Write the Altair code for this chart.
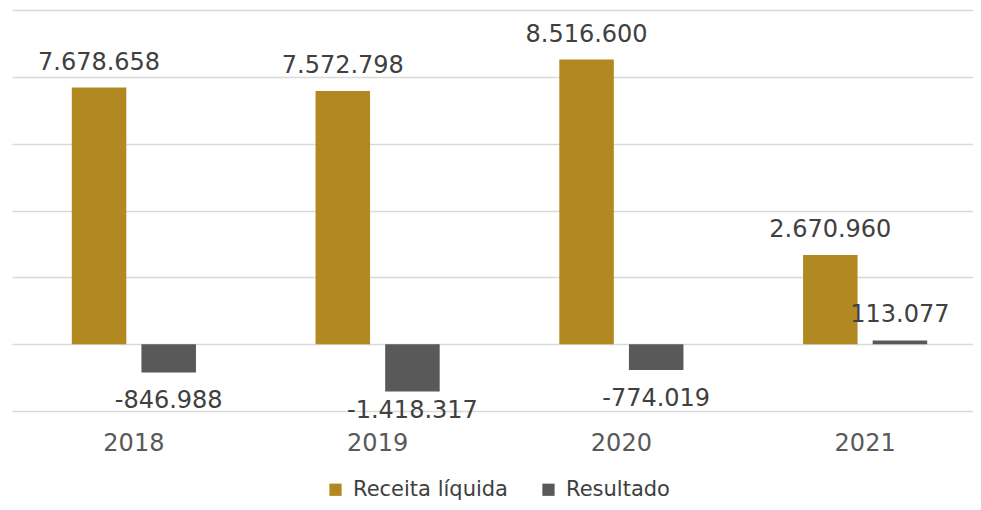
import altair as alt
import pandas as pd

years = ["2018", "2019", "2020", "2021"]
receita = [7678658, 7572798, 8516600, 2670960]
resultado = [-846988, -1418317, -774019, 113077]
series = ["Receita líquida", "Resultado"]
colors = ["#B28921", "#595959"]

rows = []
for i, y in enumerate(years):
    for s, vals in zip(series, [receita, resultado]):
        v = vals[i]
        rows.append({"ano": y, "serie": s, "valor": v,
                     "rotulo": f"{v:,}".replace(",", ".")})
df = pd.DataFrame(rows)

FONT = "DejaVu Sans"

x = alt.X("ano:N", title=None, sort=years,
          scale=alt.Scale(paddingInner=0, paddingOuter=0, range=[0, 975]),
          axis=alt.Axis(domain=False, ticks=False, labelAngle=0, labelFontSize=24,
                        labelColor="#595959", labelPadding=20, labelFont=FONT))
xo = alt.XOffset("serie:N", sort=series,
                 scale=alt.Scale(paddingInner=0.217, paddingOuter=0.859))
y = alt.Y("valor:Q", title=None,
          scale=alt.Scale(domain=[-2000000, 10000000], nice=False),
          axis=alt.Axis(values=[-2000000, 0, 2000000, 4000000, 6000000, 8000000, 10000000],
                        labels=False, ticks=False, domain=False, grid=True,
                        gridColor="#d9d9d9", gridWidth=1.5))
color = alt.Color("serie:N", sort=series,
                  scale=alt.Scale(domain=series, range=colors),
                  legend=alt.Legend(title=None, orient="none", direction="horizontal",
                                    legendX=313, legendY=469, symbolType="square",
                                    symbolSize=150, symbolStrokeWidth=0,
                                    labelFontSize=21, labelColor="#404040", labelFont=FONT,
                                    labelOffset=7, columnPadding=30, labelLimit=400))

base = alt.Chart(df).encode(x=x, xOffset=xo)

bars = base.mark_bar().encode(y=y, color=color)

pos = base.transform_filter("datum.valor >= 0").mark_text(
    baseline="alphabetic", dy=-18, fontSize=24, color="#404040", font=FONT
).encode(y=alt.Y("valor:Q"), text="rotulo:N")

neg = base.transform_filter("datum.valor < 0").transform_calculate(
    ypos="max(datum.valor - 860000, -2000000)"
).mark_text(
    baseline="middle", fontSize=24, color="#404040", font=FONT
).encode(y=alt.Y("ypos:Q"), text="rotulo:N")

chart = alt.layer(bars, pos, neg).properties(
    width=961, height=401,
    autosize=alt.AutoSizeParams(type="none"),
    padding={"left": 4, "top": 2, "right": 0, "bottom": 91},
).configure(background="white").configure_view(stroke=None)

chart.save("out.html", embed_options={"renderer": "svg", "actions": False})
